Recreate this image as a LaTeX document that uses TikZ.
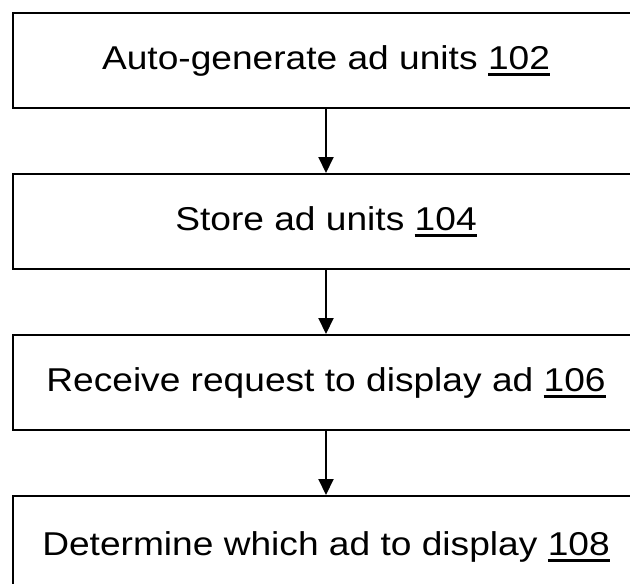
\documentclass[tikz,border=0pt]{standalone}
\usepackage{fontspec}
\setmainfont{Liberation Sans}[FakeStretch=1.125]
\usetikzlibrary{arrows.meta}
\newcommand\refnum[1]{\setbox0\hbox{#1}\rlap{\vrule height -3.5pt depth 6.5pt width \wd0}\box0}
\begin{document}
\begin{tikzpicture}[x=1pt,y=-1pt,
  stepbox/.style={draw=black, line width=1.6pt, minimum width=626pt, inner sep=0pt,
    text height=57pt, text depth=38pt, font=\fontsize{33}{36}\selectfont, anchor=north},
  flow/.style={line width=2pt, -{Triangle[length=16pt,width=15pt]}}]
\useasboundingbox (0,0) rectangle (630,584);
\fill[white] (0,0) rectangle (630,584);
\node[stepbox] (b1) at (326,12) {Auto-generate ad units \refnum{102}};
\node[stepbox] (b2) at (326,173) {Store ad units \refnum{104}};
\node[stepbox] (b3) at (326,334) {Receive request to display ad \refnum{106}};
\node[stepbox, text height=60pt] (b4) at (326,495) {Determine which ad to display \refnum{108}};
\draw[flow] (b1.south) -- (b2.north);
\draw[flow] (b2.south) -- (b3.north);
\draw[flow] (b3.south) -- (b4.north);
\end{tikzpicture}
\end{document}
